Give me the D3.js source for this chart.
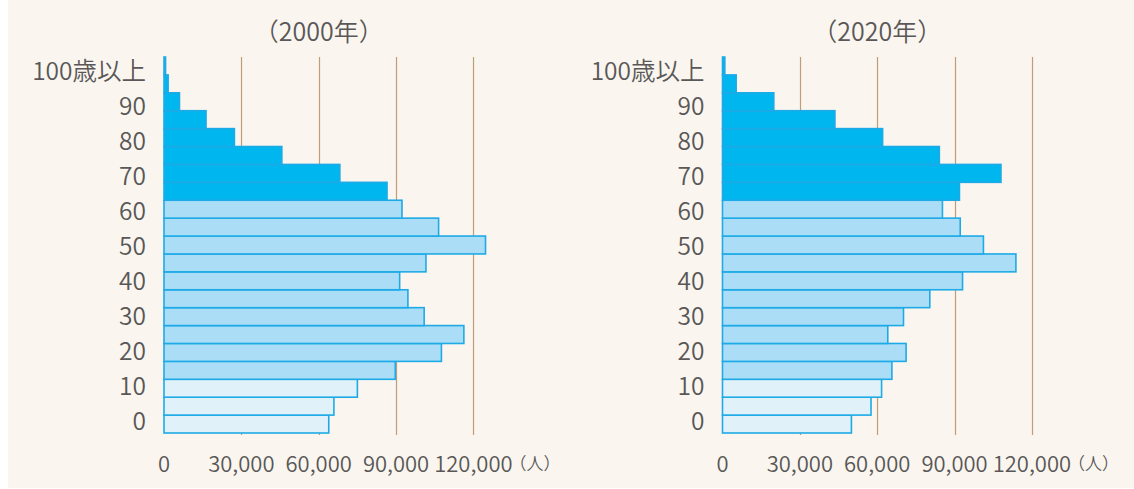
<!DOCTYPE html>
<html><head><meta charset="utf-8">
<script src="https://cdn.jsdelivr.net/npm/d3@7"></script>
<style>
html,body{margin:0;padding:0;background:#ffffff;}
svg{display:block;}
text{font-family:"Noto Sans CJK JP","Noto Sans",sans-serif;fill:#595757;font-weight:350;}
</style></head>
<body>
<svg id="chart" width="1134" height="489"></svg>
<script>
// ---- data ----
const ageGroups = ["0-4","5-9","10-14","15-19","20-24","25-29","30-34","35-39","40-44","45-49",
  "50-54","55-59","60-64","65-69","70-74","75-79","80-84","85-89","90-94","95-99","100+"];
const ageLabels = ["0","10","20","30","40","50","60","70","80","90","100歳以上"];
const years = ["（2000年）","（2020年）"];
const pop2000 = [63900,65900,75000,89700,107600,116300,100900,94600,91400,101600,
  124700,106500,92300,86500,68200,45700,27300,16300,6000,1600,600];
const pop2020 = [50000,57600,61700,65700,71200,64100,70200,80400,93100,113800,
  101200,92200,85300,91900,108000,84100,62100,43600,19900,5300,900];
const xTicks = [0,30000,60000,90000,120000];
const unitLabel = "（人）";

// ---- drawing ----
const svg = d3.select("#chart");
svg.append("rect").attr("x",8).attr("y",0).attr("width",1126).attr("height",488).attr("fill","#faf6ef");

const panels = [
  {title: years[0], values: pop2000, x0: 164},
  {title: years[1], values: pop2020, x0: 722.5}
];
const y = d3.scaleBand().domain(ageGroups.slice().reverse()).range([57, 433]).padding(0);
const yLab = d3.scalePoint().domain(ageLabels).range([419.5, 69.5]);

function fillFor(i){
  if (i >= 13) return "#00b6ee";
  if (i >= 3) return "#abdef6";
  return "#e0f1fa";
}

panels.forEach(p => {
  const x = d3.scaleLinear().domain([0,120000]).range([p.x0, p.x0 + 309.4]);
  const g = svg.append("g");
  // gridlines
  g.selectAll("line.grid").data(xTicks.slice(1)).enter().append("line")
    .attr("x1", d => Math.round(x(d)) + 0.5).attr("x2", d => Math.round(x(d)) + 0.5)
    .attr("y1", 57).attr("y2", 435)
    .attr("stroke", "#c09c78").attr("stroke-width", 1.2);
  // bars
  g.selectAll("rect.bar").data(p.values).enter().append("rect")
    .attr("x", x(0))
    .attr("y", (d,i) => y(ageGroups[i]))
    .attr("width", d => x(d) - x(0))
    .attr("height", y.bandwidth())
    .attr("fill", (d,i) => fillFor(i))
    .attr("stroke", "#1eaae6").attr("stroke-width", 1.6);
  // title
  g.append("text").attr("x", x(60000)).attr("y", 30)
    .attr("text-anchor","middle").attr("dominant-baseline","central")
    .style("font-size","25px").text(p.title);
  // y labels
  g.selectAll("text.ylab").data(ageLabels).enter().append("text")
    .attr("x", p.x0 - 18).attr("y", d => yLab(d))
    .attr("text-anchor","end").attr("dominant-baseline","central")
    .style("font-size","24.5px").text(d => d);
  // x axis labels
  g.selectAll("text.xlab").data(xTicks).enter().append("text")
    .attr("x", d => x(d)).attr("y", 462)
    .attr("text-anchor","middle").attr("dominant-baseline","central")
    .style("font-size","22px").text(d => d3.format(",")(d));
  g.append("text").attr("x", x(120000) + 36).attr("y", 462)
    .attr("text-anchor","start").attr("dominant-baseline","central")
    .style("font-size","17px").text(unitLabel);
});
</script>
</body></html>
